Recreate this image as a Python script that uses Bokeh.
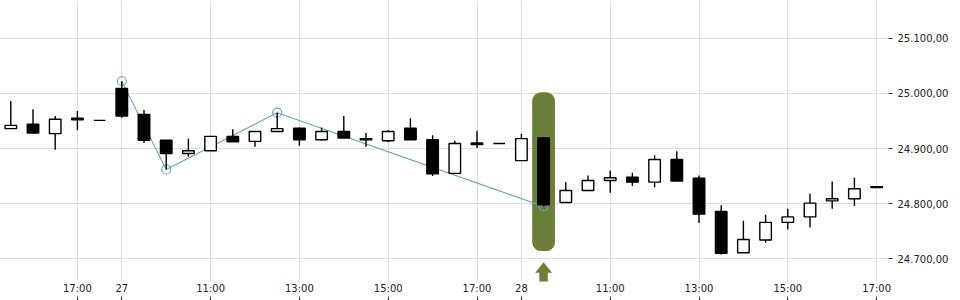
from bokeh.plotting import figure
from bokeh.models import Range1d, FixedTicker, LinearAxis, Label
from bokeh.embed import file_html
from bokeh.resources import INLINE

# ---------------- data ----------------
# slot index: 0 = day 27 09:00, one slot = 30 minutes (trading hours 09:00-17:30)
slots = list(range(-5, 35))
opens = [24936, 24944, 24927, 24955, 24951,
         25009, 24962, 24915, 24891, 24896, 24922, 24913, 24931, 24937, 24916,
         24931, 24918, 24914, 24937, 24916, 24855, 24910, 24909,
         24878, 24919, 24802, 24824, 24842, 24848, 24839, 24880, 24846, 24786,
         24711, 24734, 24766, 24776, 24805, 24809, 24831]
highs = [24986, 24971, 24959, 24968, 24951,
         25022, 24970, 24915, 24918, 24922, 24935, 24931, 24965, 24938, 24938,
         24959, 24928, 24933, 24955, 24924, 24914, 24932, 24909,
         24927, 24921, 24839, 24851, 24860, 24856, 24888, 24895, 24851, 24797,
         24769, 24780, 24791, 24818, 24840, 24847, 24832]
lows = [24936, 24928, 24898, 24933, 24951,
        24956, 24910, 24862, 24885, 24896, 24912, 24903, 24931, 24905, 24914,
        24919, 24903, 24912, 24916, 24850, 24855, 24901, 24909,
        24878, 24795, 24802, 24824, 24820, 24832, 24830, 24841, 24765, 24708,
        24711, 24729, 24753, 24757, 24791, 24796, 24829.4]
closes = [24942, 24928, 24953, 24952, 24951,
          24959, 24915, 24891, 24896, 24922, 24912, 24931, 24936, 24916, 24931,
          24919, 24916, 24931, 24916, 24854, 24909, 24907, 24909,
          24918, 24798, 24824, 24842, 24847, 24839, 24880, 24841, 24781, 24710,
          24735, 24766, 24776, 24801, 24809, 24827, 24829.4]

# zigzag swing points (slot, price)
zz_slots = [0, 2, 7, 19]
zz_prices = [25022, 24862, 24965, 24795]

# highlighted candle
hl_slot = 19

# axis ticks
x_tick_slots = [-2, 0, 4, 8, 12, 16, 18, 22, 26, 30, 34]
x_tick_labels = ["17:00", "27", "11:00", "13:00", "15:00", "17:00", "28",
                 "11:00", "13:00", "15:00", "17:00"]
x_cut_slot = -6
x_cut_label = "15:00"
y_ticks = [24700, 24800, 24900, 25000, 25100]
last_price = 24829.40


def de_fmt(v):
    s = f"{v:,.2f}"
    return s.replace(",", "X").replace(".", ",").replace("X", ".")


# ---------------- figure ----------------
FW, FH = 888, 281
PX_PER_SLOT = 22.2
PX_PER_UNIT = 0.5515
x0 = -5.464
ytop = 25168.4

p = figure(frame_width=FW, frame_height=FH,
           x_range=Range1d(x0, x0 + FW / PX_PER_SLOT),
           y_range=Range1d(ytop - FH / PX_PER_UNIT, ytop),
           output_backend="svg", toolbar_location=None,
           x_axis_location="below", y_axis_location="right",
           min_border_left=0, min_border_top=0, min_border_bottom=0,
           min_border_right=72)
p.outline_line_color = None
p.background_fill_color = "white"
p.border_fill_color = "white"

FONT = "DejaVu Sans"
TXT = "#222222"
GRID = "#dcdcdc"

xa = p.xaxis[0]
xa.ticker = FixedTicker(ticks=x_tick_slots)
xa.major_label_overrides = {s: l for s, l in zip(x_tick_slots, x_tick_labels)}
xa.axis_line_color = None
xa.major_tick_in = 0
xa.major_tick_out = 0
xa.minor_tick_line_color = None
xa.major_label_standoff = 1
xa.major_label_text_font = FONT
xa.major_label_text_font_size = "10px"
xa.major_label_text_color = TXT

xa2 = LinearAxis(ticker=FixedTicker(ticks=x_tick_slots))
xa2.axis_line_color = None
xa2.major_tick_in = 0
xa2.major_tick_out = 4
xa2.major_tick_line_color = "#333333"
xa2.minor_tick_line_color = None
xa2.major_label_standoff = 0
xa2.major_label_text_font_size = "0px"
xa2.major_label_text_color = None
p.add_layout(xa2, "below")

ya = p.yaxis[0]
ya.ticker = FixedTicker(ticks=y_ticks)
ya.major_label_overrides = {v: de_fmt(v) for v in y_ticks}
ya.axis_line_color = None
ya.major_tick_in = 0
ya.major_tick_out = 4
ya.major_tick_line_color = "#333333"
ya.minor_tick_line_color = None
ya.major_label_standoff = 5
ya.major_label_text_font = FONT
ya.major_label_text_font_size = "10px"
ya.major_label_text_color = TXT

p.xgrid.grid_line_color = GRID
p.ygrid.grid_line_color = GRID
p.xgrid.ticker = FixedTicker(ticks=x_tick_slots)
p.ygrid.ticker = FixedTicker(ticks=y_ticks)

# ---------------- highlight + arrow ----------------
OLIVE = "#6b7f3a"
hi = highs[slots.index(hl_slot)]
lo = lows[slots.index(hl_slot)]
pad = 80
p.quad(left=[hl_slot - 0.49], right=[hl_slot + 0.49], top=[hi + pad], bottom=[lo - pad],
       fill_color=OLIVE, line_color=OLIVE, border_radius=8)

tip = lo - pad - 12 / PX_PER_UNIT
ax = [0, 8, 4, 4, -4, -4, -8]
ay = [0, 10, 10, 22, 22, 10, 10]
p.patch([hl_slot + dx / PX_PER_SLOT for dx in ax], [tip - dy / PX_PER_UNIT for dy in ay],
        fill_color=OLIVE, line_color=OLIVE, line_width=0.5)

# ---------------- zigzag ----------------
TEAL = "#69a8b0"
p.line(zz_slots, zz_prices, line_color=TEAL, line_width=1.1)
p.scatter(zz_slots, zz_prices, marker="circle", size=9, fill_color=None,
          line_color=TEAL, line_width=1.2)

# ---------------- candles ----------------
LW = 1.4
p.segment(slots, highs, slots, lows, line_color="black", line_width=LW)
fills = ["white" if c > o else "black" for o, c in zip(opens, closes)]
p.vbar(x=slots, width=0.52, top=[max(o, c) for o, c in zip(opens, closes)],
       bottom=[min(o, c) for o, c in zip(opens, closes)],
       fill_color=fills, line_color="black", line_width=LW)

# ---------------- extra labels ----------------
p.add_layout(Label(x=FW + 4 + 5, x_units="screen", y=last_price, y_units="data",
                   text=de_fmt(last_price), text_align="left", text_baseline="middle",
                   text_font=FONT, text_font_size="10px", text_color=TXT))
p.add_layout(Label(x=x_cut_slot, x_units="data", y=-1, y_units="screen",
                   text=x_cut_label, text_align="center", text_baseline="top",
                   text_font=FONT, text_font_size="10px", text_color=TXT))

open("out.html", "w").write(file_html(p, INLINE))
